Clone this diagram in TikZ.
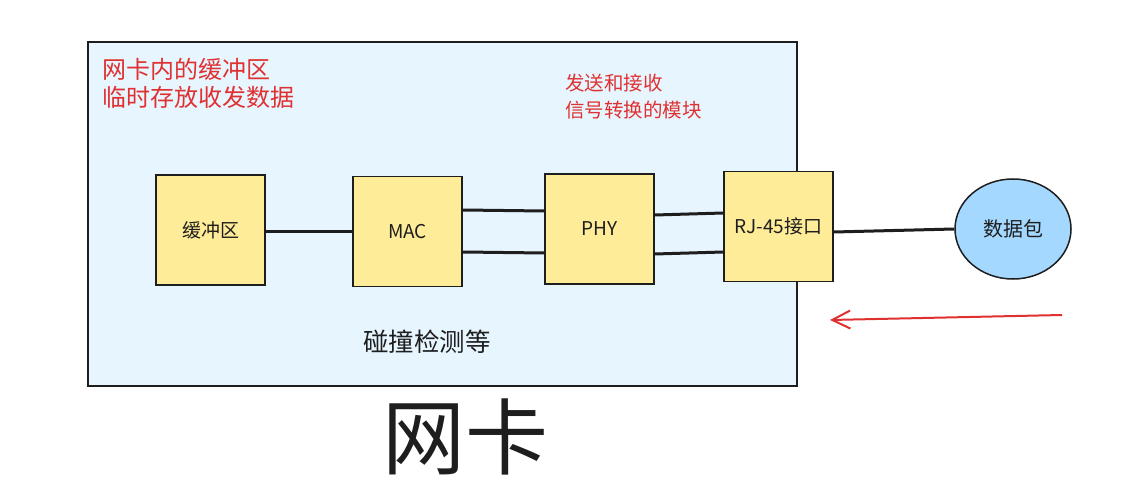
\documentclass[tikz,border=0pt]{standalone}
\usepackage{fontspec}
\setmainfont{Noto Sans CJK SC}
\usetikzlibrary{arrows.meta,shapes.geometric}
\definecolor{stroke}{HTML}{1E1E1E}
\definecolor{bgblue}{HTML}{E7F5FF}
\definecolor{boxyellow}{HTML}{FFEC99}
\definecolor{circblue}{HTML}{A5D8FF}
\definecolor{redtxt}{HTML}{E03131}
\tikzset{
  blk/.style={draw=stroke, line width=1.5pt, fill=boxyellow, minimum width=109pt, minimum height=110pt, inner sep=0pt, font=\fontsize{19}{22}\selectfont, text=stroke},
  wire/.style={draw=stroke, line width=3pt},
  redlabel/.style={text=redtxt, align=left, anchor=north west, inner sep=0pt},
}
\begin{document}
\begin{tikzpicture}[x=1pt,y=-1pt]
\useasboundingbox (0,0) rectangle (1123,486);
\fill[white] (0,0) rectangle (1123,486);
\draw[draw=stroke, line width=1.5pt, fill=bgblue] (88,42) rectangle (797,386);
\node[redlabel, font=\fontsize{24}{28}\selectfont] (lbl1) at (102,58) {网卡内的缓冲区\\临时存放收发数据};
\node[redlabel, font=\fontsize{19.5}{27}\selectfont] (lbl2) at (565,74) {发送和接收\\信号转换的模块};
\node[blk] (buf) at (210.5,230) {缓冲区};
\node[blk] (mac) at (407.5,231.5) {MAC};
\node[blk] (phy) at (599.5,229) {PHY};
\node[blk] (rj) at (778.5,226.5) {RJ-45接口};
\node[draw=stroke, line width=1.5pt, fill=circblue, ellipse, minimum width=116pt, minimum height=100pt, inner sep=0pt, font=\fontsize{20}{22}\selectfont, text=stroke] (pkt) at (1013,229) {数据包};
\draw[wire] (buf.east |- 0,232) -- (mac.west |- 0,232);
\draw[wire] (mac.east |- 0,210) -- (phy.west |- 0,211);
\draw[wire] (mac.east |- 0,252) -- (phy.west |- 0,253);
\draw[wire] (phy.east |- 0,215) -- (rj.west |- 0,213);
\draw[wire] (phy.east |- 0,254) -- (rj.west |- 0,252);
\draw[wire] (rj.east |- 0,232) -- (pkt.west);
\coordinate (arS) at (1062,315);
\coordinate (arE) at (830,320);
\draw[draw=redtxt, line width=2pt, -{Straight Barb[length=18pt,width=18pt]}] (arS) -- (arE);
\node[font=\fontsize{25.5}{28}\selectfont, text=stroke] (coll) at (427,342) {碰撞检测等};
\node[font=\fontsize{83}{90}\selectfont, text=stroke] (title) at (465,437) {网卡};
\end{tikzpicture}
\end{document}
